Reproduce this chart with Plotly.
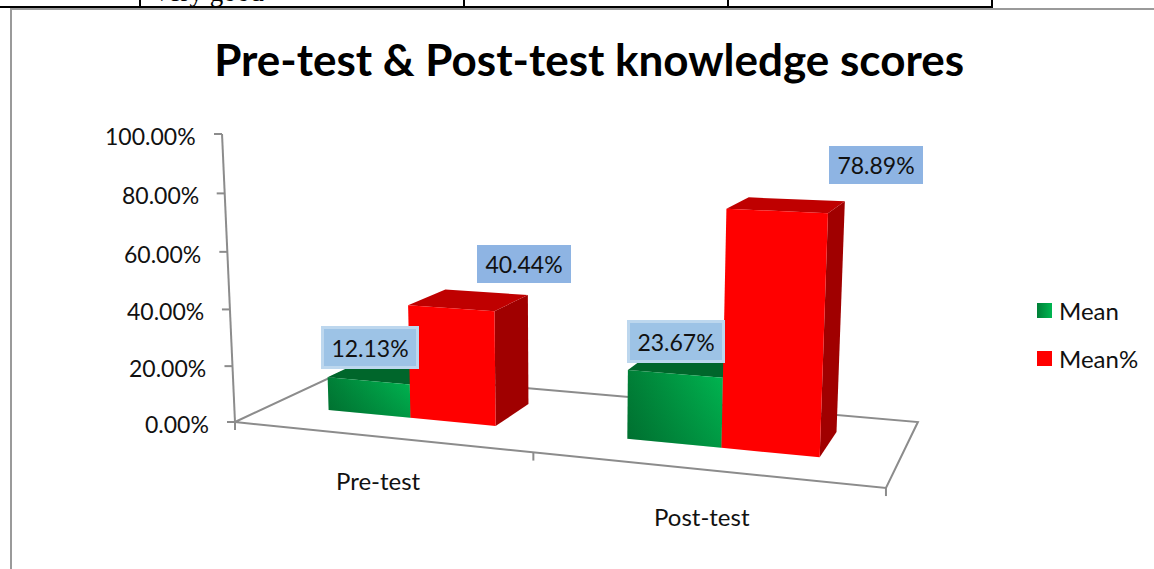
import numpy as np
import plotly.graph_objects as go

# ---------- data ----------
categories = ["Pre-test", "Post-test"]
series_names = ["Mean", "Mean%"]
mean_values = [12.13, 23.67]
mean_pct_values = [40.44, 78.89]
tick_values = [0, 20, 40, 60, 80, 100]
tick_labels = ["0.00%", "20.00%", "40.00%", "60.00%", "80.00%", "100.00%"]

# ---------- 3-D scale: (category, depth, value) -> page pixels (pinhole camera) ----------
CAMERA = np.array([
    [264.35, 154.2, -0.2128, 235.0],
    [-0.65, 1.3, -2.93, 422.0],
    [-0.069, 0.138, -0.000374, 1.0],
])


def project(cat, depth, value):
    v = CAMERA @ np.array([cat, depth, value, 1.0])
    return float(v[0] / v[2]), float(v[1] / v[2])


def poly(points):
    pts = [project(*p) for p in points] + [project(*points[0])]
    return [p[0] for p in pts], [p[1] for p in pts]


GROUP_OFFSET = 0.205
BAR_W = 0.288
DEPTH = (0.32, 0.72)
AXIS_GREY = "#8C8C8C"
FONT = "Lato"
INK = "#111111"

fig = go.Figure()


def line(points, color=AXIS_GREY, width=2):
    xs, ys = zip(*points)
    fig.add_trace(go.Scatter(x=xs, y=ys, mode="lines", line=dict(color=color, width=width),
                             showlegend=False, hoverinfo="skip"))


def face(points, color=None, gradient=None):
    xs, ys = poly(points)
    kw = dict(fillcolor=color) if gradient is None else dict(fillgradient=gradient)
    fig.add_trace(go.Scatter(x=xs, y=ys, mode="none", fill="toself", showlegend=False,
                             hoverinfo="skip", **kw))


def bar(x0, value, front, top, side, overlay=None):
    x1 = x0 + BAR_W
    d0, d1 = DEPTH
    face([(x1, d0, 0), (x1, d1, 0), (x1, d1, value), (x1, d0, value)], side)
    face([(x0, d0, value), (x1, d0, value), (x1, d1, value), (x0, d1, value)], top)
    pts = [(x0, d0, 0), (x1, d0, 0), (x1, d0, value), (x0, d0, value)]
    if isinstance(front, str):
        face(pts, front)
    else:
        face(pts, gradient=front)
        face(pts, gradient=overlay)


# floor + axes
line([project(0, 0, 0), project(2, 0, 0), project(2, 1, 0), project(0, 1, 0), project(0, 0, 0)])
line([project(0, 0, 0), project(0, 0, 100)])
for t in tick_values:
    x, y = project(0, 0, t)
    line([(x - 8, y), (x + (3 if t == 0 else 0), y)])
for c in (0, 1, 2):
    x, y = project(c, 0, 0)
    line([(x - (3 if c == 1 else 0), y), (x - (3 if c == 1 else 0), y + 8)])

green_h = dict(type="horizontal", colorscale=[[0, "#007F37"], [1, "#00B651"]])
green_v = dict(type="vertical", colorscale=[[0, "rgba(0,50,20,0.22)"], [1, "rgba(0,50,20,0)"]])
for i in range(len(categories)):
    x0 = i + GROUP_OFFSET
    bar(x0, mean_values[i], green_h, "#00662B", "#006E2F", overlay=green_v)
    bar(x0 + BAR_W, mean_pct_values[i], "#FF0000", "#BF0000", "#A00000")

# legend swatches
LEGEND_X, LEGEND_Y = 1044.5, (310.5, 358.5)
swatches = [dict(color="#007F37", gradient=dict(type="horizontal", color="#00B651")), dict(color="#FF0000")]
for name, ly, m in zip(series_names, LEGEND_Y, swatches):
    fig.add_trace(go.Scatter(x=[LEGEND_X], y=[ly], mode="markers", name=name, showlegend=False,
                             marker=dict(symbol="square", size=15, **m)))

ann = []
# value-axis labels
for t, lab in zip(tick_values, tick_labels):
    x, y = project(0, 0, t)
    ann.append(dict(x=x - 24, y=y + 2, text=lab, xanchor="right", yanchor="middle", showarrow=False,
                    font=dict(family=FONT, size=23, color=INK)))
# category labels
CAT_SHIFT = [(-158, 28), (-184, 28)]
for i, c in enumerate(categories):
    x, y = project(i + 1, 0, 0)
    ann.append(dict(x=x + CAT_SHIFT[i][0], y=y + CAT_SHIFT[i][1], text=c, xanchor="center", yanchor="middle",
                    showarrow=False, font=dict(family=FONT, size=24, color=INK)))
# legend text
for name, ly in zip(series_names, LEGEND_Y):
    ann.append(dict(x=1057, y=ly, text=name, xanchor="left", yanchor="middle", showarrow=False,
                    font=dict(family=FONT, size=24, color=INK)))
# data labels
LABEL_SHIFT = {
    (0, 0): (2, -33), (0, 1): (1, -32),
    (1, 0): (73, -44), (1, 1): (99, -46),
}
STYLE = {0: dict(bgcolor="#9DC3E6", bordercolor="#BDD7EE", borderwidth=3, borderpad=0, width=92, height=37),
         1: dict(bgcolor="#8EB4E3", bordercolor="#8EB4E3", borderwidth=1, borderpad=0, width=92, height=36)}
for s, vals in enumerate([mean_values, mean_pct_values]):
    for i, v in enumerate(vals):
        cx = i + GROUP_OFFSET + BAR_W * s + BAR_W / 2
        x, y = project(cx, DEPTH[0], v)
        dx, dy = LABEL_SHIFT[(s, i)]
        ann.append(dict(x=x + dx, y=y + dy, text=f"{v:.2f}%", xanchor="center", yanchor="middle", align="center",
                        valign="middle", showarrow=False, font=dict(family=FONT, size=23, color=INK), **STYLE[s]))
# cropped table row above the chart: only this cell is legible in the reference
ann.append(dict(x=150, y=0, yshift=8, text="Very good", xanchor="left", yanchor="middle", showarrow=False,
                font=dict(family="Liberation Serif", size=27, color="#000")))

# page furniture: table rules and chart frame
shapes = [
    dict(type="rect", x0=0, x1=992, y0=6, y1=8, fillcolor="#000", line_width=0),
    dict(type="rect", x0=10, x1=1154, y0=8, y1=10, fillcolor="#9A9A9A", line_width=0),
    dict(type="rect", x0=10, x1=12, y0=8, y1=569, fillcolor="#9A9A9A", line_width=0),
]
for vx in (140, 464, 728, 992):
    shapes.append(dict(type="rect", x0=vx - 1, x1=vx + 1, y0=0, y1=8, fillcolor="#000", line_width=0))

fig.update_layout(
    width=1154, height=569, margin=dict(l=0, r=0, t=0, b=0), paper_bgcolor="white", plot_bgcolor="white",
    showlegend=False,
    xaxis=dict(range=[0, 1154], visible=False, fixedrange=True),
    yaxis=dict(range=[569, 0], visible=False, fixedrange=True),
    title=dict(text="<b>Pre-test &amp; Post-test knowledge scores</b>", x=0.5105, y=0.893, xanchor="center",
               yanchor="middle", font=dict(family=FONT, size=44, color="#000")),
    annotations=ann,
    shapes=shapes,
)
fig.write_html("out.html", config=dict(displayModeBar=False),
               post_script="document.body.style.margin='0';document.documentElement.style.overflow='hidden';")
